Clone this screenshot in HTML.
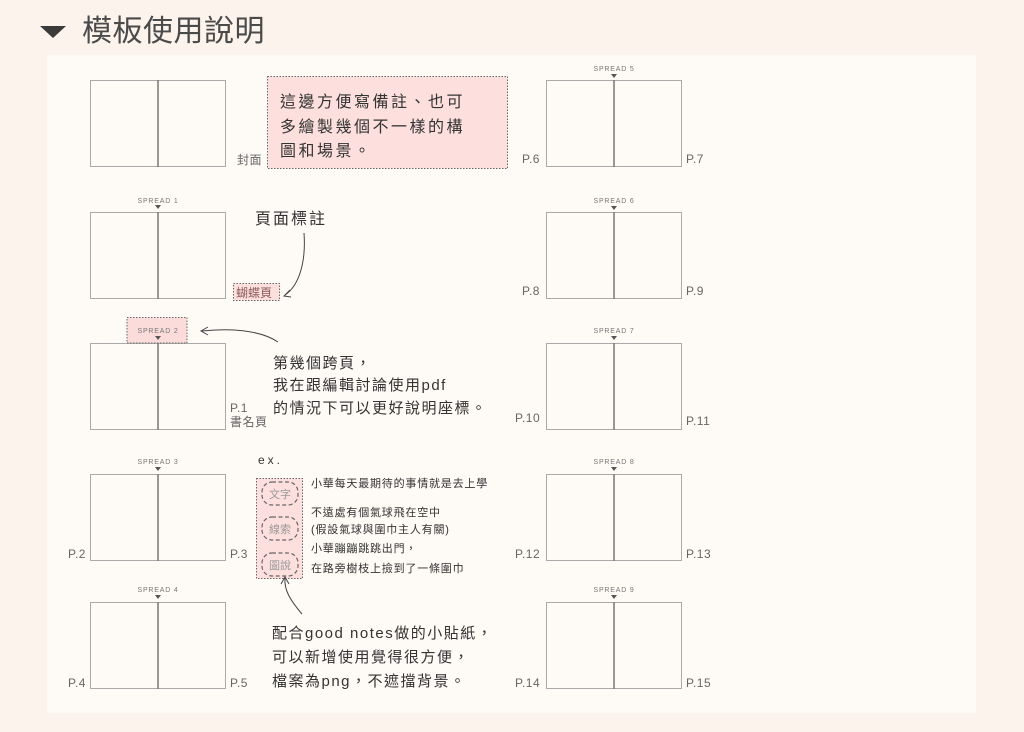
<!DOCTYPE html>
<html><head><meta charset="utf-8"><style>
html,body{margin:0;padding:0;background:#fcf3ec;}
svg{display:block}
text{font-family:"Liberation Sans","Noto Sans CJK TC",sans-serif;}
.pl{font-size:12px;fill:#666;letter-spacing:0.5px}
.sp{font-size:7px;fill:#777;letter-spacing:0.8px}
</style></head><body>
<svg width="1024" height="732" viewBox="0 0 1024 732" xmlns="http://www.w3.org/2000/svg">
<rect x="0" y="0" width="1024" height="732" fill="#fcf3ec"/>
<polygon points="40,26 66,26 53,38" fill="#3a3a3a"/>
<text x="82" y="41" font-size="30" fill="#4a4a4a" font-weight="normal" letter-spacing="0.5">模板使用說明</text>
<rect x="47" y="55" width="929" height="658" fill="#fefaf6"/>

<g fill="#fefaf6" stroke="#aaa" stroke-width="1">
<rect x="90.5" y="80.5" width="135" height="86"/>
<rect x="90.5" y="212.5" width="135" height="86"/>
<rect x="90.5" y="343.5" width="135" height="86"/>
<rect x="90.5" y="474.5" width="135" height="86"/>
<rect x="90.5" y="602.5" width="135" height="86"/>
<rect x="546.5" y="80.5" width="135" height="86"/>
<rect x="546.5" y="212.5" width="135" height="86"/>
<rect x="546.5" y="343.5" width="135" height="86"/>
<rect x="546.5" y="474.5" width="135" height="86"/>
<rect x="546.5" y="602.5" width="135" height="86"/>
</g>
<g stroke="#777" stroke-width="1.5">
<line x1="158" y1="80" x2="158" y2="167"/><line x1="158" y1="212" x2="158" y2="299"/>
<line x1="158" y1="343" x2="158" y2="430"/><line x1="158" y1="474" x2="158" y2="561"/>
<line x1="158" y1="602" x2="158" y2="689"/>
<line x1="614" y1="80" x2="614" y2="167"/><line x1="614" y1="212" x2="614" y2="299"/>
<line x1="614" y1="343" x2="614" y2="430"/><line x1="614" y1="474" x2="614" y2="561"/>
<line x1="614" y1="602" x2="614" y2="689"/>
</g>

<rect x="127" y="317.5" width="60" height="25.5" fill="#fcdcdb" stroke="#666" stroke-width="1" stroke-dasharray="1.5,1.5"/>
<g class="sp" text-anchor="middle">
<text x="158" y="203">SPREAD 1</text>
<text x="158" y="333">SPREAD 2</text>
<text x="158" y="464">SPREAD 3</text>
<text x="158" y="592">SPREAD 4</text>
<text x="614" y="71">SPREAD 5</text>
<text x="614" y="203">SPREAD 6</text>
<text x="614" y="333">SPREAD 7</text>
<text x="614" y="464">SPREAD 8</text>
<text x="614" y="592">SPREAD 9</text>
</g>
<g fill="#555">
<polygon points="155,205 161,205 158,209"/><polygon points="155,336 161,336 158,340"/>
<polygon points="155,467 161,467 158,471"/><polygon points="155,595 161,595 158,599"/>
<polygon points="611,74 617,74 614,78"/><polygon points="611,206 617,206 614,210"/>
<polygon points="611,336 617,336 614,340"/><polygon points="611,467 617,467 614,471"/>
<polygon points="611,595 617,595 614,599"/>
</g>

<g class="pl">
<text x="237" y="164">封面</text>
<text x="230" y="412">P.1</text>
<text x="230" y="426">書名頁</text>
<text x="68" y="558">P.2</text><text x="230" y="558">P.3</text>
<text x="68" y="687">P.4</text><text x="230" y="687">P.5</text>
<text x="522" y="163">P.6</text><text x="686" y="163">P.7</text>
<text x="522" y="295">P.8</text><text x="686" y="295">P.9</text>
<text x="515" y="422">P.10</text><text x="686" y="425">P.11</text>
<text x="515" y="558">P.12</text><text x="686" y="558">P.13</text>
<text x="515" y="687">P.14</text><text x="686" y="687">P.15</text>
</g>

<rect x="267.5" y="76.5" width="240" height="92" fill="#fde0de" stroke="#666" stroke-width="1" stroke-dasharray="1.5,1.5"/>
<g font-size="16" fill="#333" letter-spacing="2.5">
<text x="280" y="107">這邊方便寫備註、也可</text>
<text x="280" y="132">多繪製幾個不一樣的構</text>
<text x="280" y="156">圖和場景。</text>
</g>

<text x="255" y="224" font-size="16" fill="#333" letter-spacing="2">頁面標註</text>
<path d="M304,233 C306,260 300,285 285,295" fill="none" stroke="#444" stroke-width="1"/>
<path d="M290,290 L284,296 L291,297" fill="none" stroke="#444" stroke-width="1"/>
<rect x="233.5" y="283.5" width="46" height="17" fill="#fde0de" stroke="#666" stroke-dasharray="1.5,1.5"/>
<text x="236" y="297" font-size="12" fill="#8a5a5a">蝴蝶頁</text>

<path d="M278,342 C260,330 230,328 202,331" fill="none" stroke="#444" stroke-width="1"/>
<path d="M208,327 L201,331 L208,335" fill="none" stroke="#444" stroke-width="1"/>
<g font-size="15" fill="#333" letter-spacing="1.5">
<text x="273" y="368">第幾個跨頁，</text>
<text x="273" y="390">我在跟編輯討論使用pdf</text>
<text x="273" y="413">的情況下可以更好說明座標。</text>
</g>

<text x="258" y="464" font-size="12" fill="#333" letter-spacing="3">ex.</text>
<rect x="256.5" y="478.5" width="46" height="100" fill="#fde0de" stroke="#666" stroke-dasharray="1.5,1.5"/>
<g fill="none" stroke="#666" stroke-width="1.2" stroke-dasharray="4,2.5">
<rect x="262" y="482" width="36" height="23" rx="10"/>
<rect x="262" y="517" width="36" height="23" rx="10"/>
<rect x="262" y="553" width="36" height="23" rx="10"/>
</g>
<g font-size="11" fill="#999" text-anchor="middle">
<text x="280" y="498">文字</text><text x="280" y="533">線索</text><text x="280" y="569">圖說</text>
</g>
<g font-size="11" fill="#333" letter-spacing="0.8">
<text x="311" y="487">小華每天最期待的事情就是去上學</text>
<text x="311" y="516">不遠處有個氣球飛在空中</text>
<text x="311" y="533">(假設氣球與圍巾主人有關)</text>
<text x="311" y="552">小華蹦蹦跳跳出門，</text>
<text x="311" y="572">在路旁樹枝上撿到了一條圍巾</text>
</g>
<path d="M302,614 C290,600 284,590 285,578" fill="none" stroke="#444" stroke-width="1"/>
<path d="M281,584 L285,577 L289,584" fill="none" stroke="#444" stroke-width="1"/>
<g font-size="15" fill="#333" letter-spacing="1.5">
<text x="272" y="638">配合good notes做的小貼紙，</text>
<text x="272" y="662">可以新增使用覺得很方便，</text>
<text x="272" y="686">檔案為png，不遮擋背景。</text>
</g>
</svg>
</body></html>
